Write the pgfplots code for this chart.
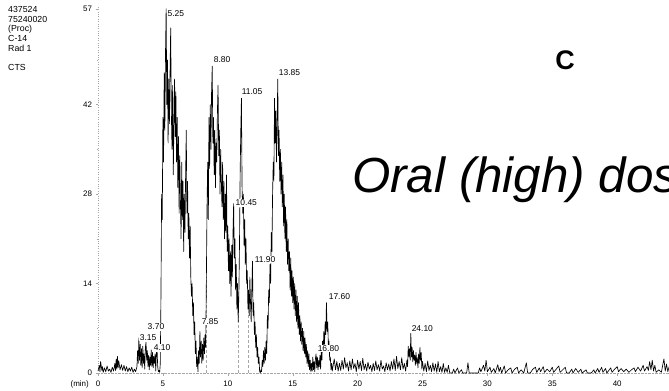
\documentclass[border=0pt]{standalone}
\usepackage{pgfplots}
\pgfplotsset{compat=1.18}
\usepackage{fontspec}
\setmainfont{Liberation Sans}
\begin{document}
\begin{tikzpicture}
\useasboundingbox (0,0) rectangle (669bp,391bp);
\clip (0,0) rectangle (669bp,391bp);
\begin{axis}[
  at={(98bp,18bp)}, anchor=south west,
  x=12.98bp, y=6.39bp,
  xmin=0, xmax=46, ymin=0, ymax=57.5,
  clip=false,
  axis x line*=bottom, axis y line*=left,
  x axis line style={gray!70, densely dotted, -},
  y axis line style={gray!70, dotted, -},
  xtick={0,5,...,40}, ytick={0,14,28,42,57},
  minor ytick={7,21,35,49},
  tick align=outside, major tick length=2.5bp, minor tick length=1.5bp,
  tick style={gray!70, thin},
  /pgf/number format/assume math mode=true,
  ticklabel style={font=\fontsize{8}{9}\selectfont},
  xticklabel style={yshift=-2bp},
  yticklabel style={xshift=0bp},
]
\addplot[gray!70, densely dashed, thin] coordinates {(8.35,0) (8.35,15)};
\addplot[gray!70, densely dashed, thin] coordinates {(10.78,0) (10.78,12)};
\addplot[gray!70, densely dashed, thin] coordinates {(11.55,0) (11.55,10)};
\addplot[black, line width=0.65bp, line join=round, mark=none] coordinates {
(0.0,0.3) (0.1,1.2) (0.15,0.2) (0.2,1.8) (0.3,0.4) (0.35,1.0) (0.4,0.1) (0.5,0.8) (0.6,0.2) (0.7,1.1) (0.8,0.3) (0.9,0.6) (1.0,0.1) (1.1,0.9) (1.2,0.3) (1.3,1.5) (1.35,0.4) (1.4,2.2) (1.45,0.6) (1.5,2.6) (1.55,0.8) (1.6,1.9) (1.7,0.5) (1.8,1.3) (1.9,0.4) (2.0,1.2) (2.1,0.3) (2.2,1.0) (2.3,0.2) (2.4,0.8) (2.5,0.3) (2.6,0.9) (2.7,0.1) (2.8,0.6) (2.9,0.2) (3.0,1.0)
(3.05,3.5) (3.1,1.5) (3.15,5.5) (3.2,2.0) (3.25,4.5) (3.3,1.2) (3.35,3.8) (3.4,0.8) (3.45,4.2) (3.5,1.5) (3.55,3.0) (3.6,0.6) (3.65,4.0) (3.7,4.8) (3.75,2.0) (3.8,3.5) (3.85,1.0) (3.9,2.8) (3.95,0.5) (4.0,2.5) (4.05,1.2) (4.1,3.6) (4.15,1.0) (4.2,3.2) (4.25,0.8) (4.3,2.6) (4.35,1.5) (4.4,3.0) (4.45,0.3) (4.5,3.4) (4.55,3.6) (4.6,1.0) (4.65,0.2) (4.7,0.4) (4.75,0.1) (4.8,1.5)
(4.85,12) (4.9,28) (4.95,24) (5.0,40) (5.05,33) (5.1,47) (5.15,38) (5.2,50) (5.25,57) (5.3,42) (5.35,49) (5.4,36) (5.45,46) (5.5,39) (5.55,47) (5.6,54) (5.65,41) (5.7,35) (5.75,45) (5.8,31) (5.85,39) (5.9,46) (5.95,37) (6.0,44) (6.05,33) (6.1,40) (6.15,29) (6.2,37) (6.25,25) (6.3,34) (6.35,27) (6.4,21) (6.45,33) (6.5,24) (6.55,30) (6.6,19) (6.65,28) (6.7,22) (6.75,31) (6.8,38) (6.85,25) (6.9,30) (6.95,21) (7.0,25) (7.05,18) (7.1,23) (7.15,15) (7.2,12) (7.25,14) (7.3,9) (7.35,11) (7.4,6) (7.45,8) (7.5,3) (7.55,5) (7.6,1) (7.65,2.5) (7.7,0.2) (7.75,3.5) (7.8,1.5) (7.85,6.5) (7.9,2.5) (7.95,5) (8.0,1.5) (8.05,4.5) (8.1,2) (8.15,5.5) (8.2,3) (8.25,6) (8.3,4)
(8.35,15) (8.4,26) (8.45,33) (8.5,24) (8.55,40) (8.6,32) (8.65,42) (8.7,35) (8.75,44) (8.8,48) (8.85,36) (8.9,40) (8.95,31) (9.0,38) (9.05,29) (9.1,36) (9.15,33) (9.2,41) (9.25,45) (9.3,34) (9.35,38) (9.4,28) (9.45,35) (9.5,30) (9.55,26) (9.6,33) (9.65,24) (9.7,30) (9.75,21) (9.8,28) (9.85,22) (9.9,31) (9.95,19) (10.0,23) (10.05,16) (10.1,21) (10.15,14) (10.2,19) (10.25,12) (10.3,20) (10.35,15) (10.4,22) (10.45,26.5) (10.5,18) (10.55,21) (10.6,13) (10.65,17) (10.7,10) (10.75,14) (10.8,8) (10.85,12) (10.9,20) (10.95,31) (11.0,38) (11.05,43) (11.1,29) (11.15,25) (11.2,28) (11.25,20) (11.3,24) (11.35,17) (11.4,21) (11.45,14) (11.5,16) (11.55,10) (11.6,13) (11.65,9) (11.7,15) (11.75,11) (11.8,8) (11.85,13) (11.9,17.5) (11.95,9) (12.0,11) (12.05,6) (12.1,8) (12.15,4) (12.2,6) (12.25,2.5) (12.3,4) (12.35,1.5) (12.4,2.5) (12.45,0.3) (12.5,0) (12.55,0.5) (12.6,0.2) (12.65,2) (12.7,1) (12.75,3.5) (12.8,1.5) (12.85,4) (12.9,2) (12.95,5) (13.0,3)
(13.05,9) (13.1,7) (13.15,13) (13.2,11) (13.25,17) (13.3,14) (13.35,22) (13.4,19) (13.45,28) (13.5,33) (13.55,30) (13.6,43) (13.65,36) (13.7,41) (13.75,33) (13.8,39) (13.85,46) (13.9,34) (13.95,38) (14.0,30) (14.05,35) (14.1,28) (14.15,33) (14.2,26) (14.25,31) (14.3,23) (14.35,28) (14.4,21) (14.45,26) (14.5,19) (14.55,24) (14.6,17) (14.65,21) (14.7,16) (14.75,19) (14.8,13) (14.85,18) (14.9,12) (14.95,16) (15.0,11) (15.05,15) (15.1,10) (15.15,14) (15.2,9) (15.25,13) (15.3,8) (15.35,12) (15.4,7) (15.45,11) (15.5,6) (15.55,9) (15.6,5) (15.65,8) (15.7,4.5) (15.75,7) (15.8,3.5) (15.85,6.5) (15.9,3) (15.95,5.5) (16.0,2.5) (16.05,4.5) (16.1,1.5) (16.15,3.5) (16.2,1) (16.25,3) (16.3,0.5) (16.35,2) (16.4,0.2) (16.45,1.5) (16.5,0.3) (16.55,2.5) (16.6,0.5) (16.65,1.8) (16.7,0.2) (16.75,2.2) (16.8,3) (16.85,0.8) (16.9,2.5) (16.95,0.5) (17.0,2) (17.05,1) (17.1,2.8) (17.15,0.6) (17.2,3.5) (17.25,2) (17.3,5) (17.35,3.5) (17.4,6.5) (17.45,4.5) (17.5,8) (17.55,6) (17.6,11) (17.65,6.5) (17.7,8) (17.75,4) (17.8,5) (17.85,2) (17.9,2.5) (17.95,0.5) (18.0,1.5) (18.05,0.3) (18.1,1)
(18.2,2.2) (18.3,0.5) (18.4,1.8) (18.5,0.3) (18.6,1.5) (18.7,0.4) (18.8,2.0) (18.9,0.6) (19.0,2.4) (19.1,0.8) (19.2,1.6) (19.3,0.3) (19.4,1.9) (19.5,0.5) (19.6,2.2) (19.7,0.7) (19.8,1.5) (19.9,0.2) (20.0,2.0) (20.1,0.6) (20.2,1.8) (20.3,0.4) (20.4,2.3) (20.5,0.5) (20.6,1.4) (20.7,0.3) (20.8,1.7) (20.9,0.6) (21.0,1.2) (21.1,0.2) (21.2,1.5) (21.3,0.4) (21.4,1.9) (21.5,0.5) (21.6,1.3) (21.7,0.3) (21.8,2.0) (21.9,0.6) (22.0,1.1) (22.1,0.2) (22.2,1.6) (22.3,0.5) (22.4,1.4) (22.5,0.3) (22.6,1.8) (22.7,0.6) (22.8,2.2) (22.9,0.4) (23.0,2.6) (23.1,0.7) (23.2,1.8) (23.3,0.5) (23.4,2.4) (23.5,0.6) (23.6,1.5) (23.7,0.3) (23.8,2.0) (23.85,1.0) (23.9,4.2) (23.95,2.5) (24.0,3.8) (24.05,2.0) (24.1,6.2) (24.15,2.5) (24.2,4.0) (24.25,1.8) (24.3,3.5) (24.35,2.0) (24.4,2.8) (24.45,1.2) (24.5,3.2) (24.55,1.5) (24.6,2.4) (24.65,0.8) (24.7,3.0) (24.75,1.5) (24.8,4.0) (24.85,2.0) (24.9,3.2) (24.95,0.6) (25.0,1.8) (25.1,0.3) (25.2,1.5) (25.3,0.2) (25.4,1.9) (25.5,0.4) (25.6,1.2) (25.7,0.2) (25.8,1.6) (25.9,0.3) (26.0,1.4) (26.1,0.1) (26.2,1.8) (26.3,0.2) (26.4,1.0) (26.5,0.1) (26.6,1.5) (26.7,0.1) (26.8,0.8) (26.9,0.1) (27.0,1.2) (27.1,0.0)
(27.3,0) (27.4,0.6) (27.5,0) (27.7,0.8) (27.8,0) (28.0,0.5) (28.1,0) (28.4,0) (28.5,1.6) (28.6,0) (29.0,0) (29.3,0) (29.4,0.8) (29.5,0.2) (29.7,1.2) (29.8,0.3) (29.9,2.0) (30.0,0.2) (30.2,0.9) (30.3,0.1) (30.5,0.7) (30.6,0) (30.8,1.3) (30.9,0.2) (31.0,0.9) (31.1,0) (31.3,1.1) (31.4,0) (31.6,0.5) (31.8,0.8) (31.9,0) (32.1,0.6) (32.3,0.9) (32.4,0) (32.6,0.5) (32.8,0) (33.0,1.6) (33.1,0) (33.3,0) (33.5,0.6) (33.7,0.9) (33.8,0.1) (34.0,0.8) (34.1,0.2) (34.3,1.0) (34.4,0.1) (34.6,0.6) (34.8,0.2) (35.0,0.9) (35.1,0.1) (35.3,0.6) (35.5,1.1) (35.6,0.1) (35.8,0.5) (36.0,0.9) (36.1,0) (36.3,0) (36.5,0.6) (36.6,0) (36.8,0.7) (37.0,0.1) (37.2,0.6) (37.3,0) (37.6,0.5) (37.7,0) (38.0,0) (38.2,0.5) (38.3,0) (38.5,0.7) (38.6,0.1) (38.8,0.9) (38.9,0.1) (39.1,0.7) (39.2,0) (39.5,0.8) (39.6,0.1) (39.8,0.6) (40.0,1.0) (40.1,0.2) (40.3,0.7) (40.5,0.2) (40.7,0.6) (40.9,0.1) (41.1,0.5) (41.3,0.8) (41.4,0.2) (41.6,0.9) (41.8,0.3) (42.0,1.2) (42.1,0.3) (42.3,1.0) (42.4,0.4) (42.5,1.8) (42.6,0.5) (42.7,2.0) (42.8,0.3) (42.9,1.2) (43.0,0.1) (43.2,0.5) (43.4,0.1) (43.6,2.2) (43.7,0.3) (43.8,1.4) (43.9,0.2) (44.0,1.0) (44.2,0.2) (44.6,0)
};
\tikzset{pk/.style={anchor=west, fill=white, inner sep=0.6bp, font=\fontsize{8.5}{9}\selectfont}}
\node[pk] at (axis cs:5.30,56.3) {5.25};
\node[pk] at (axis cs:8.86,49.0) {8.80};
\node[pk] at (axis cs:11.02,44.0) {11.05};
\node[pk] at (axis cs:13.87,47.0) {13.85};
\node[pk] at (axis cs:10.55,26.6) {10.45};
\node[pk] at (axis cs:12.02,17.8) {11.90};
\node[pk] at (axis cs:7.94,8.0) {7.85};
\node[pk] at (axis cs:3.77,7.2) {3.70};
\node[pk] at (axis cs:3.16,5.6) {3.15};
\node[pk] at (axis cs:4.24,3.9) {4.10};
\node[pk] at (axis cs:16.87,3.8) {16.80};
\node[pk] at (axis cs:17.72,11.9) {17.60};
\node[pk] at (axis cs:24.11,6.9) {24.10};
\end{axis}
\node[anchor=east, inner sep=0, font=\fontsize{8}{9}\selectfont] at (89bp,6.5bp) {(min)};
\node[anchor=north west, align=left, inner sep=0, font=\fontsize{8.8}{9.6}\selectfont] at (8bp,384.5bp) {437524\\75240020\\(Proc)\\C-14\\Rad 1\\[9.6bp]CTS};
\node[font=\bfseries\fontsize{27}{30}\selectfont] at (565bp,331bp) {C};
\node[anchor=base west, inner sep=0, font=\itshape\fontsize{49.5}{54}\selectfont] at (352bp,198bp) {Oral (high) dose};
\end{tikzpicture}
\end{document}
